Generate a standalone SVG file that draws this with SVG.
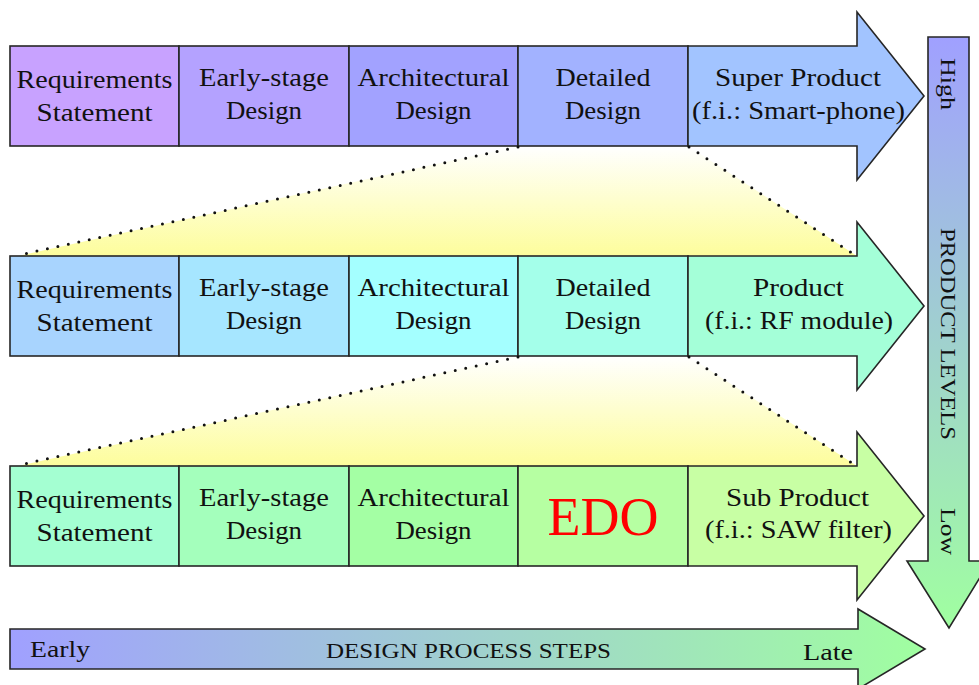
<svg xmlns="http://www.w3.org/2000/svg" width="979" height="685" viewBox="0 0 979 685" font-family="'Liberation Serif', 'DejaVu Serif', serif">
  <defs>
    <linearGradient id="gYellow" x1="0" y1="0" x2="0" y2="1">
      <stop offset="0" stop-color="#ffffff"/>
      <stop offset="1" stop-color="#fdfd9c"/>
    </linearGradient>
    <linearGradient id="gH" x1="0" y1="0" x2="1" y2="0">
      <stop offset="0" stop-color="#a0a0ff"/>
      <stop offset="1" stop-color="#a0ffa0"/>
    </linearGradient>
    <linearGradient id="gV" x1="0" y1="0" x2="0" y2="1">
      <stop offset="0" stop-color="#a0a0ff"/>
      <stop offset="1" stop-color="#a0ffa0"/>
    </linearGradient>
  </defs>
  <style>
    .box { stroke: #262626; stroke-width: 1.6; stroke-linejoin: miter; }
    text { font-family: "Liberation Serif", "DejaVu Serif", serif; fill: #111; }
    .t { font-size: 25px; text-anchor: middle; }
    .s { font-size: 21px; }
    .e { font-size: 24px; }
    .edo { font-size: 55px; fill: #ff0000; text-anchor: middle; }
    .dot { stroke: #111; stroke-width: 3; stroke-linecap: round; stroke-dasharray: 0 10.7; fill: none; }
  </style>

  <!-- zoom fills -->
  <g id="zoom-fills">
    <polygon points="518,146 688,146 857,256 18,256" fill="url(#gYellow)"/>
    <polygon points="518,356 688,356 857,466 18,466" fill="url(#gYellow)"/>
  </g>

  <!-- Row 1 -->
  <g id="r1-req">
    <rect class="box" x="10" y="46" width="169" height="100" fill="#c8a2ff"/>
    <text class="t" x="94.5" y="88" textLength="156" lengthAdjust="spacingAndGlyphs">Requirements</text>
    <text class="t" x="94.5" y="121" textLength="116" lengthAdjust="spacingAndGlyphs">Statement</text>
  </g>
  <g id="r1-early">
    <rect class="box" x="179" y="46" width="170" height="100" fill="#b4a2ff"/>
    <text class="t" x="264" y="85.5" textLength="130" lengthAdjust="spacingAndGlyphs">Early-stage</text>
    <text class="t" x="264" y="118.5" textLength="76" lengthAdjust="spacingAndGlyphs">Design</text>
  </g>
  <g id="r1-arch">
    <rect class="box" x="349" y="46" width="169" height="100" fill="#a2a2ff"/>
    <text class="t" x="433.5" y="85.5" textLength="152" lengthAdjust="spacingAndGlyphs">Architectural</text>
    <text class="t" x="433.5" y="118.5" textLength="76" lengthAdjust="spacingAndGlyphs">Design</text>
  </g>
  <g id="r1-detail">
    <rect class="box" x="518" y="46" width="170" height="100" fill="#a2b2ff"/>
    <text class="t" x="603" y="85.5" textLength="95" lengthAdjust="spacingAndGlyphs">Detailed</text>
    <text class="t" x="603" y="118.5" textLength="76" lengthAdjust="spacingAndGlyphs">Design</text>
  </g>
  <g id="r1-product">
    <polygon class="box" points="688,46 857,46 857,12 924,96 857,180 857,146 688,146" fill="#a2c4ff"/>
    <text class="t" x="798" y="85.5" textLength="166" lengthAdjust="spacingAndGlyphs">Super Product</text>
    <text class="t" x="798.5" y="118.5" textLength="213" lengthAdjust="spacingAndGlyphs">(f.i.: Smart-phone)</text>
  </g>

  <!-- Row 2 -->
  <g id="r2-req">
    <rect class="box" x="10" y="256" width="169" height="100" fill="#a8d4fe"/>
    <text class="t" x="94.5" y="298" textLength="156" lengthAdjust="spacingAndGlyphs">Requirements</text>
    <text class="t" x="94.5" y="331" textLength="116" lengthAdjust="spacingAndGlyphs">Statement</text>
  </g>
  <g id="r2-early">
    <rect class="box" x="179" y="256" width="170" height="100" fill="#a6e6ff"/>
    <text class="t" x="264" y="295.5" textLength="130" lengthAdjust="spacingAndGlyphs">Early-stage</text>
    <text class="t" x="264" y="328.5" textLength="76" lengthAdjust="spacingAndGlyphs">Design</text>
  </g>
  <g id="r2-arch">
    <rect class="box" x="349" y="256" width="169" height="100" fill="#a4ffff"/>
    <text class="t" x="433.5" y="295.5" textLength="152" lengthAdjust="spacingAndGlyphs">Architectural</text>
    <text class="t" x="433.5" y="328.5" textLength="76" lengthAdjust="spacingAndGlyphs">Design</text>
  </g>
  <g id="r2-detail">
    <rect class="box" x="518" y="256" width="170" height="100" fill="#a4ffea"/>
    <text class="t" x="603" y="295.5" textLength="95" lengthAdjust="spacingAndGlyphs">Detailed</text>
    <text class="t" x="603" y="328.5" textLength="76" lengthAdjust="spacingAndGlyphs">Design</text>
  </g>
  <g id="r2-product">
    <polygon class="box" points="688,256 857,256 857,222 924,306 857,390 857,356 688,356" fill="#a4ffd8"/>
    <text class="t" x="798.5" y="295.5" textLength="91" lengthAdjust="spacingAndGlyphs">Product</text>
    <text class="t" x="799" y="328.5" textLength="188" lengthAdjust="spacingAndGlyphs">(f.i.: RF module)</text>
  </g>

  <!-- Row 3 -->
  <g id="r3-req">
    <rect class="box" x="10" y="466" width="169" height="100" fill="#a4ffd2"/>
    <text class="t" x="94.5" y="508" textLength="156" lengthAdjust="spacingAndGlyphs">Requirements</text>
    <text class="t" x="94.5" y="541" textLength="116" lengthAdjust="spacingAndGlyphs">Statement</text>
  </g>
  <g id="r3-early">
    <rect class="box" x="179" y="466" width="170" height="100" fill="#a4ffbc"/>
    <text class="t" x="264" y="505.5" textLength="130" lengthAdjust="spacingAndGlyphs">Early-stage</text>
    <text class="t" x="264" y="538.5" textLength="76" lengthAdjust="spacingAndGlyphs">Design</text>
  </g>
  <g id="r3-arch">
    <rect class="box" x="349" y="466" width="169" height="100" fill="#a4ffa4"/>
    <text class="t" x="433.5" y="505.5" textLength="152" lengthAdjust="spacingAndGlyphs">Architectural</text>
    <text class="t" x="433.5" y="538.5" textLength="76" lengthAdjust="spacingAndGlyphs">Design</text>
  </g>
  <g id="r3-edo">
    <rect class="box" x="518" y="466" width="170" height="100" fill="#b6ffa2"/>
    <text class="edo" x="603" y="535" textLength="111" lengthAdjust="spacingAndGlyphs">EDO</text>
  </g>
  <g id="r3-product">
    <polygon class="box" points="688,466 857,466 857,432 924,516 857,600 857,566 688,566" fill="#c8ffa4"/>
    <text class="t" x="797.5" y="505.5" textLength="143" lengthAdjust="spacingAndGlyphs">Sub Product</text>
    <text class="t" x="798.5" y="538" textLength="187" lengthAdjust="spacingAndGlyphs">(f.i.: SAW filter)</text>
  </g>

  <!-- Product levels arrow -->
  <g id="product-levels">
    <polygon class="box" points="928,37 969,37 969,561 990,561 949,628 907,561 928,561" fill="url(#gV)"/>
    <text class="s" transform="translate(941,84) rotate(90)" text-anchor="middle" textLength="52" lengthAdjust="spacingAndGlyphs">High</text>
    <text class="s" transform="translate(941,334) rotate(90)" text-anchor="middle" textLength="212" lengthAdjust="spacingAndGlyphs">PRODUCT LEVELS</text>
    <text class="s" transform="translate(941,531.5) rotate(90)" text-anchor="middle" textLength="47" lengthAdjust="spacingAndGlyphs">Low</text>
  </g>

  <!-- Design process steps arrow -->
  <g id="design-steps">
    <polygon class="box" points="10,629 858,629 858,609 925,649 858,689 858,669 10,669" fill="url(#gH)"/>
    <text class="e" x="30" y="657" textLength="60" lengthAdjust="spacingAndGlyphs">Early</text>
    <text class="s" x="468.5" y="658" text-anchor="middle" textLength="285" lengthAdjust="spacingAndGlyphs">DESIGN PROCESS STEPS</text>
    <text class="e" x="803" y="659.5" textLength="50" lengthAdjust="spacingAndGlyphs">Late</text>
  </g>

  <!-- connectors -->
  <g id="connectors">
    <line class="dot" x1="518" y1="147" x2="19" y2="255"/>
    <line class="dot" x1="689" y1="147" x2="855" y2="255"/>
    <line class="dot" x1="518" y1="357" x2="19" y2="465"/>
    <line class="dot" x1="689" y1="357" x2="855" y2="465"/>
  </g>
</svg>
